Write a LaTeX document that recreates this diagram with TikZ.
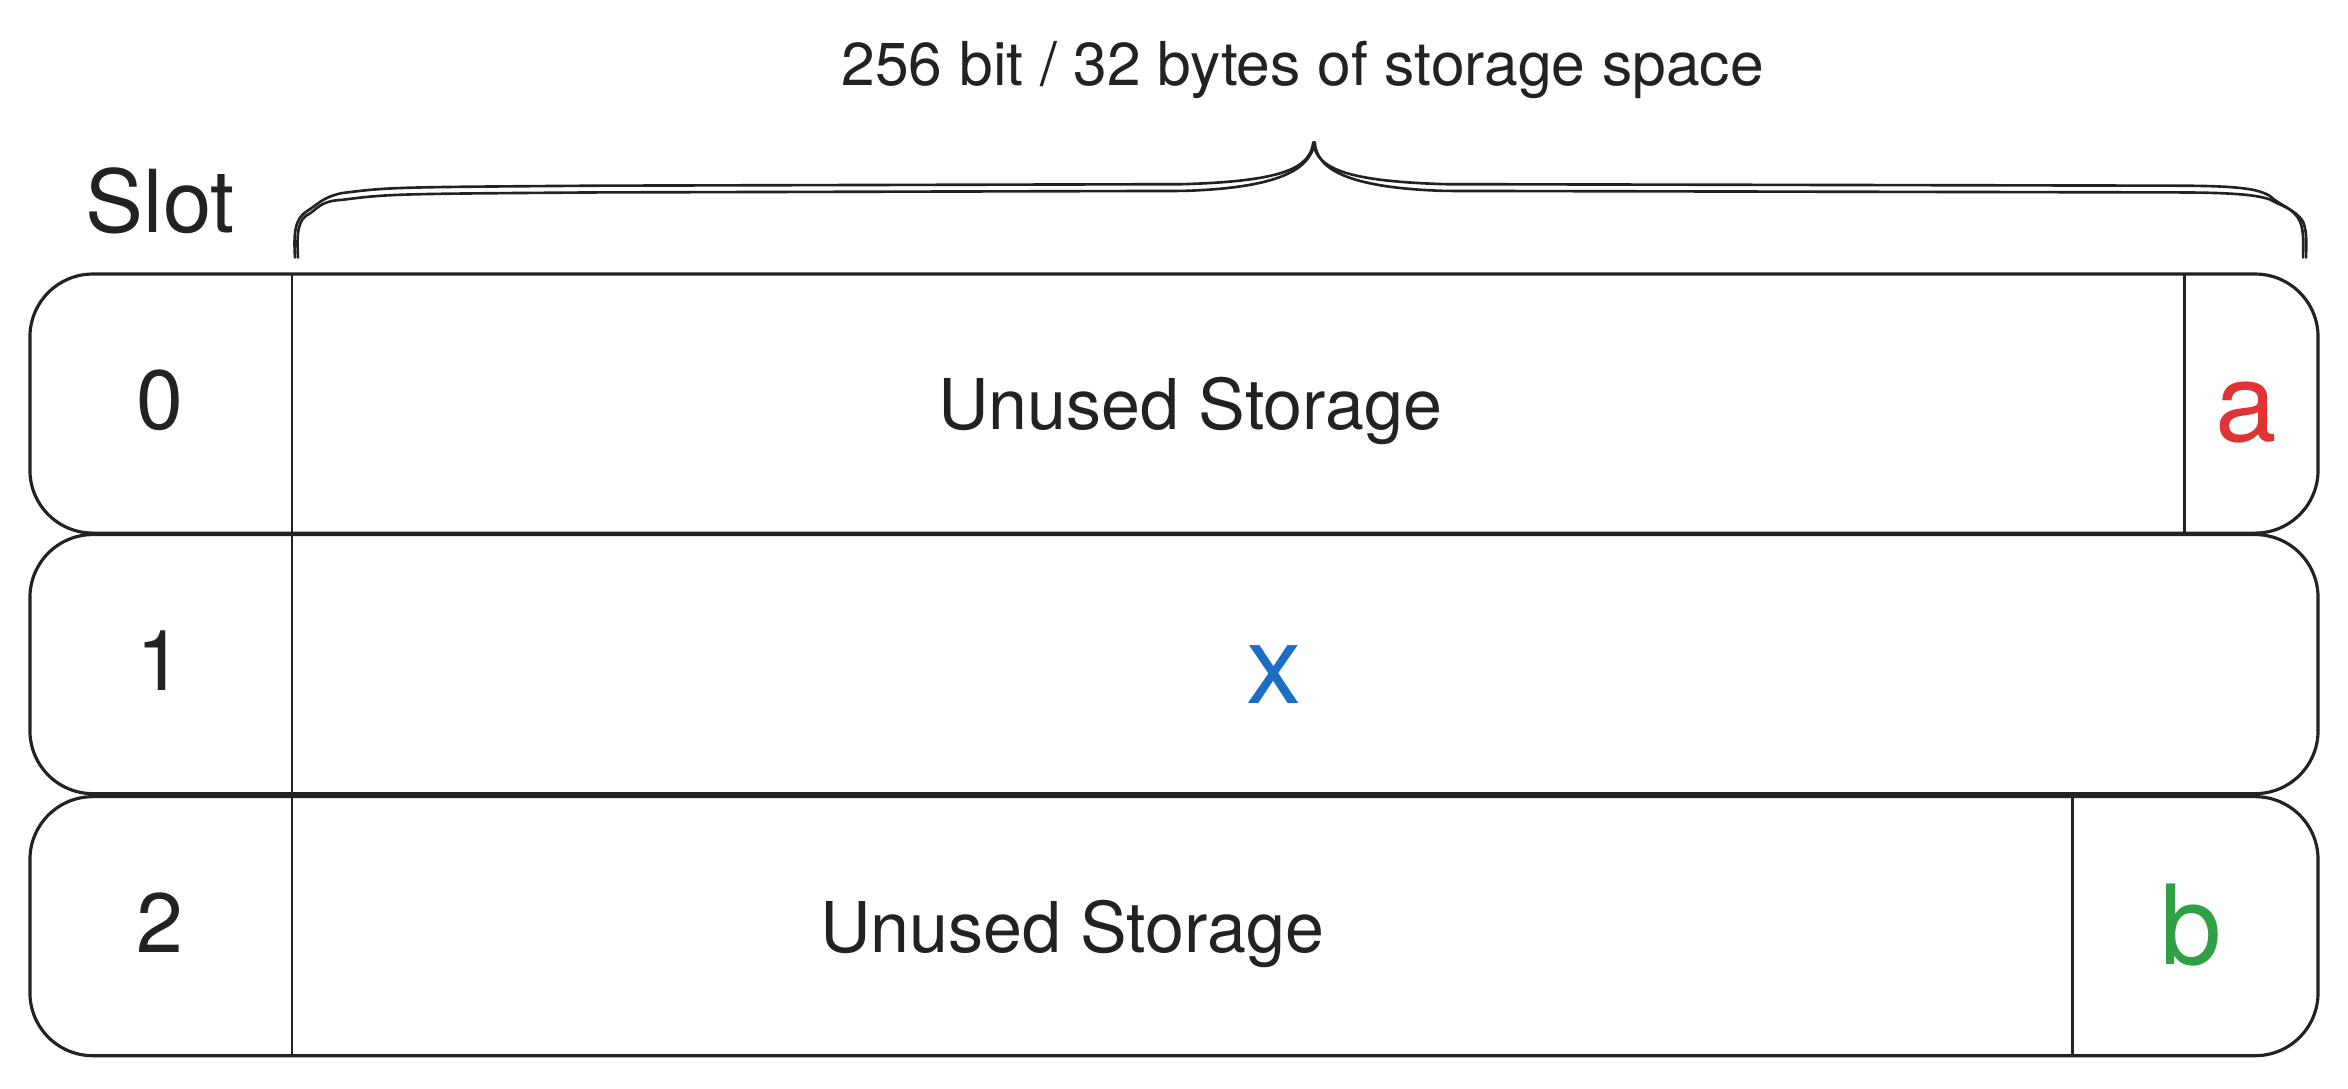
\documentclass[tikz,border=0pt]{standalone}
\usepackage{fontspec}
\setmainfont{TeX Gyre Heros}
\usetikzlibrary{calc}
\definecolor{ink}{HTML}{222222}
\definecolor{vara}{HTML}{E03333}
\definecolor{varx}{HTML}{1B6EC2}
\definecolor{varb}{HTML}{2FA046}
\tikzset{
    slotrow/.style={draw=ink,line width=0.6pt,rounded corners=4.2mm},
    divider/.style={draw=ink,line width=0.55pt},
    bracestroke/.style={draw=ink,line width=0.5pt,line cap=round,line join=round},
    idx/.style={anchor=base,inner sep=0pt,text=ink,font=\fontsize{16}{18}\selectfont},
    unused/.style={anchor=base,inner sep=0pt,text=ink,font=\fontsize{13.3}{16}\selectfont},
    var/.style={anchor=base,inner sep=0pt,font=\fontsize{21}{24}\selectfont},
}
\begin{document}
\begin{tikzpicture}[x=0.1mm,y=-0.1mm]
            \useasboundingbox (0,0) rectangle (1568,727);
            \foreach \top/\bot in {183/356,357/530,532/705}
                \draw[slotrow] (20,\top) rectangle (1548,\bot);
            \draw[divider] (195,183) -- (195,705);
            \draw[divider] (1459,183) -- (1459,356);
            \draw[divider] (1384,532) -- (1384,705);
            \foreach \dy/\dx in {0/0,4.5/2}
                \draw[bracestroke] (197+\dx,172) .. controls (196+\dx,155) and (197+\dx,146) .. (205+\dx,141+\dy/3)
                    .. controls (213,136+\dy/2) and (215,132+\dy/2) .. (228,129+\dy)
                    .. controls (260,125+\dy) .. (400,124+\dy) -- (790,123+\dy)
                    .. controls (855,121+\dy) and (875,113) .. (877+\dx/2,95)
                    .. controls (879,113) and (900,121+\dy) .. (965,123+\dy) -- (1450,124+\dy)
                    .. controls (1495,124+\dy) and (1508,126+\dy) .. (1516,131+\dy/2)
                    .. controls (1522,137) and (1532,139) .. (1536+\dx,148)
                    .. controls (1539+\dx,156) and (1538+\dx,164) .. (1538+\dx,172);
            \node[anchor=base,inner sep=0pt,text=ink,font=\fontsize{11.5}{14}\selectfont] (title) at (870,57) {256 bit / 32 bytes of storage space};
            \node[idx,font=\fontsize{16.5}{18}\selectfont] (slot) at (107,155) {Slot};
            \node[idx] (s0) at (106.5,287) {0};
            \node[idx] (s1) at (106.5,461) {1};
            \node[idx] (s2) at (106.5,636) {2};
            \node[unused] (free0) at (795,287) {Unused Storage};
            \node[unused] (free2) at (716,636) {Unused Storage};
            \node[var,text=vara] (a) at (1500,295) {a};
            \node[var,text=varx] (x) at (851,470) {x};
            \node[var,text=varb] (b) at (1463,644) {b};
        \end{tikzpicture}
\end{document}
